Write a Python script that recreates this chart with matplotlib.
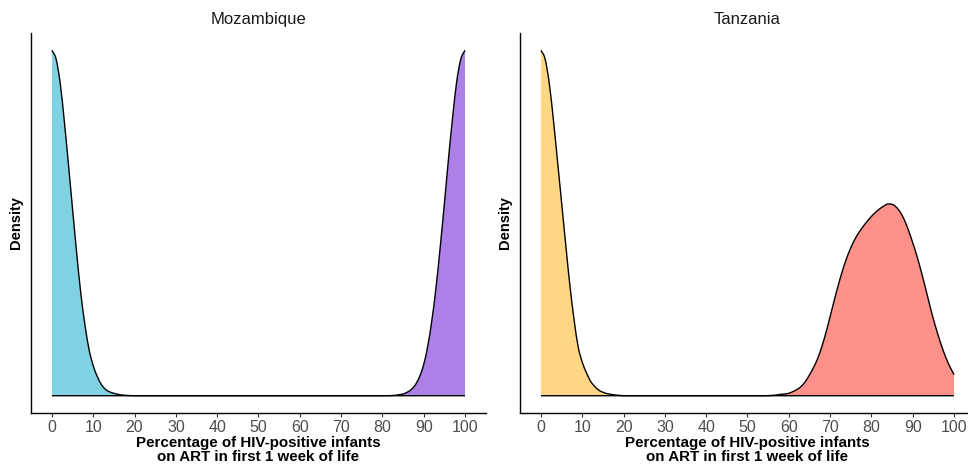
import matplotlib
matplotlib.use("Agg")
import matplotlib.pyplot as plt
from matplotlib.path import Path
from matplotlib.patches import PathPatch

plt.rcParams['font.family'] = ['Liberation Sans', 'DejaVu Sans']

# ---- data (relative density) ----
countries = ["Mozambique", "Tanzania"]

moz_low_x = [0, 1, 2, 3, 4, 5, 6, 7, 8, 9, 10, 11, 12, 13, 14, 15, 16, 17, 18, 20, 100]
moz_low_y = [1.0, 0.975, 0.905, 0.795, 0.67, 0.54, 0.412, 0.296, 0.205, 0.133, 0.087,
             0.055, 0.032, 0.018, 0.011, 0.007, 0.004, 0.002, 0.001, 0.0, 0.0]

moz_high_x = [0, 80, 83, 84, 85, 86, 87, 88, 89, 90, 91, 92, 93, 94, 95, 96, 97, 98, 99, 100]
moz_high_y = [0.0, 0.0, 0.001, 0.003, 0.005, 0.01, 0.018, 0.032, 0.055, 0.09, 0.145,
              0.22, 0.315, 0.43, 0.555, 0.685, 0.805, 0.91, 0.975, 1.0]

tza_low_x = [0, 1, 2, 3, 4, 5, 6, 7, 8, 9, 10, 11, 12, 13, 14, 15, 16, 17, 18, 19, 20, 100]
tza_low_y = [1.0, 0.975, 0.905, 0.80, 0.68, 0.559, 0.437, 0.32, 0.222, 0.142, 0.097,
             0.067, 0.042, 0.027, 0.016, 0.010, 0.006, 0.004, 0.002, 0.001, 0.0, 0.0]

tza_high_x = [0, 54, 56, 57, 58, 59, 60, 61, 62, 63, 64, 65, 66, 67, 68, 69, 70, 71, 72,
              73, 74, 75, 76, 77, 78, 79, 80, 81, 82, 83, 84, 85, 86, 87, 88, 89, 90, 91,
              92, 93, 94, 95, 96, 97, 98, 99, 100]
tza_high_y = [0.0, 0.0, 0.001, 0.002, 0.004, 0.005, 0.007, 0.012, 0.018, 0.027, 0.041,
              0.06, 0.082, 0.108, 0.142, 0.183, 0.229, 0.276, 0.321, 0.362, 0.398, 0.428,
              0.453, 0.473, 0.49, 0.505, 0.519, 0.531, 0.541, 0.549, 0.555, 0.554, 0.546,
              0.531, 0.508, 0.478, 0.443, 0.405, 0.362, 0.316, 0.268, 0.222, 0.181, 0.144,
              0.111, 0.084, 0.061]

x_ticks = [0, 10, 20, 30, 40, 50, 60, 70, 80, 90, 100]
x_label = "Percentage of HIV-positive infants\non ART in first 1 week of life"
y_label = "Density"

panels = [
    (countries[0], [(moz_low_x, moz_low_y, "#80D1E1"), (moz_high_x, moz_high_y, "#AC80E6")]),
    (countries[1], [(tza_low_x, tza_low_y, "#FED684"), (tza_high_x, tza_high_y, "#FE918A")]),
]


def smooth_path(xs, ys):
    """Cubic Hermite (Bezier) path through the read points, in data coords."""
    n = len(xs)
    slopes = []
    for i in range(n):
        if i == 0:
            m = (ys[1] - ys[0]) / (xs[1] - xs[0])
        elif i == n - 1:
            m = (ys[-1] - ys[-2]) / (xs[-1] - xs[-2])
        else:
            d0 = (ys[i] - ys[i - 1]) / (xs[i] - xs[i - 1])
            d1 = (ys[i + 1] - ys[i]) / (xs[i + 1] - xs[i])
            if d0 * d1 <= 0:
                m = 0.0
            else:
                m = (ys[i + 1] - ys[i - 1]) / (xs[i + 1] - xs[i - 1])
                m = min(abs(m), 3 * abs(d0), 3 * abs(d1)) * (1 if m > 0 else -1)
        slopes.append(m)
    verts = [(xs[0], ys[0])]
    codes = [Path.MOVETO]
    for i in range(n - 1):
        h = xs[i + 1] - xs[i]
        verts += [(xs[i] + h / 3, ys[i] + slopes[i] * h / 3),
                  (xs[i + 1] - h / 3, ys[i + 1] - slopes[i + 1] * h / 3),
                  (xs[i + 1], ys[i + 1])]
        codes += [Path.CURVE4] * 3
    return verts, codes


fig = plt.figure(figsize=(9.68, 4.70), dpi=100)
positions = [[0.0323, 0.1213, 0.4694, 0.8085], [0.5375, 0.1213, 0.4694, 0.8085]]

for pos, (title, series) in zip(positions, panels):
    ax = fig.add_axes(pos)
    curves = []
    for xs, ys, col in series:
        verts, codes = smooth_path(xs, ys)
        fverts = verts + [(xs[-1], 0), (xs[0], 0), (xs[0], ys[0])]
        fcodes = codes + [Path.LINETO, Path.LINETO, Path.CLOSEPOLY]
        ax.add_patch(PathPatch(Path(fverts, fcodes), facecolor=col, edgecolor="none", lw=0))
        curves.append((verts, codes))
    for verts, codes in curves:
        ax.add_patch(PathPatch(Path(verts, codes), facecolor="none", edgecolor="black",
                               lw=1.0, capstyle="butt"))
    ax.set_xlim(-5, 105)
    ax.set_ylim(-0.05, 1.05)
    ax.set_xticks(x_ticks)
    ax.set_xticklabels([str(t) for t in x_ticks])
    ax.set_yticks([])
    for s in ["top", "right"]:
        ax.spines[s].set_visible(False)
    for s in ["left", "bottom"]:
        ax.spines[s].set_linewidth(1.0)
        ax.spines[s].set_color("black")
    ax.tick_params(axis="x", length=3, width=0.8, color="#333333",
                   labelsize=11.5, labelcolor="#4D4D4D", pad=2)
    ax.set_title(title, fontsize=12, pad=6.5, color="#1a1a1a")
    ax.set_xlabel(x_label, fontsize=10.9, fontweight="bold", labelpad=1, linespacing=1.0)
    ax.set_ylabel(y_label, fontsize=10.5, fontweight="bold", labelpad=6)

fig.savefig("out.png", dpi=100)
